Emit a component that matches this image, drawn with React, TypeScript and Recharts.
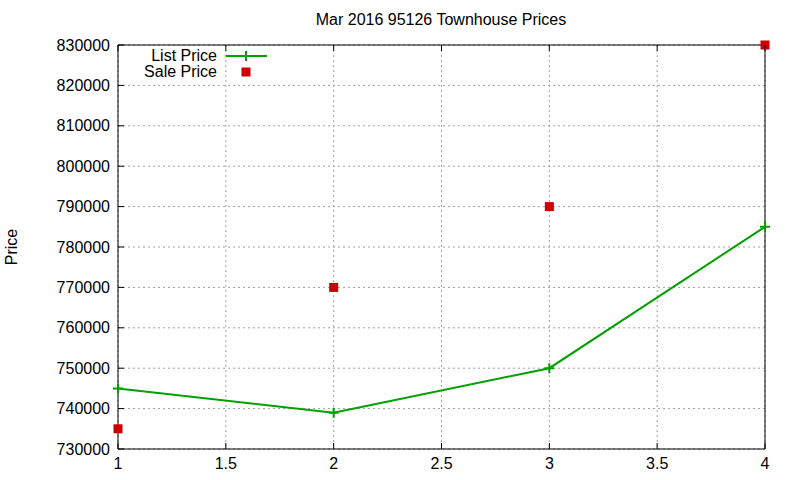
import { ComposedChart, Line, Scatter, XAxis, YAxis, CartesianGrid } from "recharts";

const positions = [1, 2, 3, 4];
const listPrices = [745000, 739000, 750000, 785000];
const salePrices = [735000, 770000, 790000, 830000];
const xTicks = [1, 1.5, 2, 2.5, 3, 3.5, 4];
const yTicks = [730000, 740000, 750000, 760000, 770000, 780000, 790000, 800000, 810000, 820000, 830000];
const seriesNames = ["List Price", "Sale Price"];
const title = "Mar 2016 95126 Townhouse Prices";

const GREEN = "#00a000";
const RED = "#cc0000";
const FONT = "'Liberation Sans', Arial, sans-serif";
const TICK_LEN = 6;

const data = positions.map((x, i) => ({ x, list: listPrices[i], sale: salePrices[i] }));

const LeftTick = (props: any) => {
  const { x, y, payload } = props;
  const edge = x + 8;
  return (
    <g>
      <line x1={edge} x2={edge + TICK_LEN} y1={y} y2={y} stroke="#000" />
      <text x={x} y={y} dy="0.35em" textAnchor="end" fontSize={16} fill="#000" fontFamily={FONT}>
        {payload.value}
      </text>
    </g>
  );
};

const BottomTick = (props: any) => {
  const { x, y, payload } = props;
  const edge = y - 6;
  return (
    <g>
      <line x1={x} x2={x} y1={edge} y2={edge - TICK_LEN} stroke="#000" />
      <text x={x} y={y} dy="0.85em" textAnchor="middle" fontSize={16} fill="#000" fontFamily={FONT}>
        {payload.value}
      </text>
    </g>
  );
};

const RightTick = (props: any) => {
  const { x, y } = props;
  return <line x1={x} x2={x - TICK_LEN} y1={y} y2={y} stroke="#000" />;
};

const TopTick = (props: any) => {
  const { x, y } = props;
  return <line x1={x} x2={x} y1={y} y2={y + TICK_LEN} stroke="#000" />;
};

const PlusDot = (props: any) => {
  const { cx, cy, key } = props;
  return (
    <path
      key={key}
      d={`M${cx - 5},${cy}H${cx + 5}M${cx},${cy - 5}V${cy + 5}`}
      stroke={GREEN}
      strokeWidth={2}
      fill="none"
    />
  );
};

const SquareShape = (props: any) => {
  const { cx, cy } = props;
  return <rect x={cx - 4.5} y={cy - 4.5} width={9} height={9} fill={RED} />;
};

export default function App() {
  return (
    <div style={{ position: "absolute", left: 0, top: 0, width: 800, height: 480, background: "#fff", fontFamily: FONT }}>
      <ComposedChart width={800} height={480} data={data} margin={{ top: 44, right: 34, bottom: 0, left: 0 }}>
        <CartesianGrid stroke="#a0a0a0" strokeDasharray="2 3" />
        <XAxis
          dataKey="x"
          type="number"
          domain={[1, 4]}
          ticks={xTicks}
          height={31}
          tickSize={0}
          tickMargin={6}
          tickLine={false}
          axisLine={{ stroke: "#000" }}
          tick={<BottomTick />}
          interval={0}
        />
        <XAxis
          xAxisId="top"
          orientation="top"
          dataKey="x"
          type="number"
          domain={[1, 4]}
          ticks={xTicks}
          height={1}
          tickSize={0}
          tickMargin={0}
          tickLine={false}
          axisLine={{ stroke: "#000" }}
          tick={<TopTick />}
          interval={0}
        />
        <YAxis
          type="number"
          domain={[730000, 830000]}
          ticks={yTicks}
          width={118}
          tickSize={0}
          tickMargin={8}
          tickLine={false}
          axisLine={{ stroke: "#000" }}
          tick={<LeftTick />}
          interval={0}
        />
        <YAxis
          yAxisId="right"
          orientation="right"
          type="number"
          domain={[730000, 830000]}
          ticks={yTicks}
          width={1}
          tickSize={0}
          tickMargin={0}
          tickLine={false}
          axisLine={{ stroke: "#000" }}
          tick={<RightTick />}
          interval={0}
        />
        <Line
          dataKey="list"
          name={seriesNames[0]}
          stroke={GREEN}
          strokeWidth={2}
          dot={PlusDot}
          activeDot={false}
          isAnimationActive={false}
        />
        <Scatter dataKey="sale" name={seriesNames[1]} shape={SquareShape} isAnimationActive={false} />
      </ComposedChart>

      <div style={{ position: "absolute", top: 11, left: 0, width: 800, textAlign: "center", paddingLeft: 82, boxSizing: "border-box", fontSize: 16 }}>
        {title}
      </div>
      <div
        style={{
          position: "absolute",
          left: 12,
          top: 247,
          fontSize: 16,
          transform: "translate(-50%, -50%) rotate(-90deg)",
        }}
      >
        Price
      </div>
      <svg style={{ position: "absolute", left: 0, top: 0 }} width={300} height={90}>
        <text x={217} y={61} textAnchor="end" fontSize={16} fontFamily={FONT} fill="#000">
          {seriesNames[0]}
        </text>
        <line x1={226} x2={267} y1={56} y2={56} stroke={GREEN} strokeWidth={2} />
        <path d="M241,56H251M246,51V61" stroke={GREEN} strokeWidth={2} />
        <text x={217} y={77} textAnchor="end" fontSize={16} fontFamily={FONT} fill="#000">
          {seriesNames[1]}
        </text>
        <rect x={241.5} y={67.5} width={9} height={9} fill={RED} />
      </svg>
    </div>
  );
}
